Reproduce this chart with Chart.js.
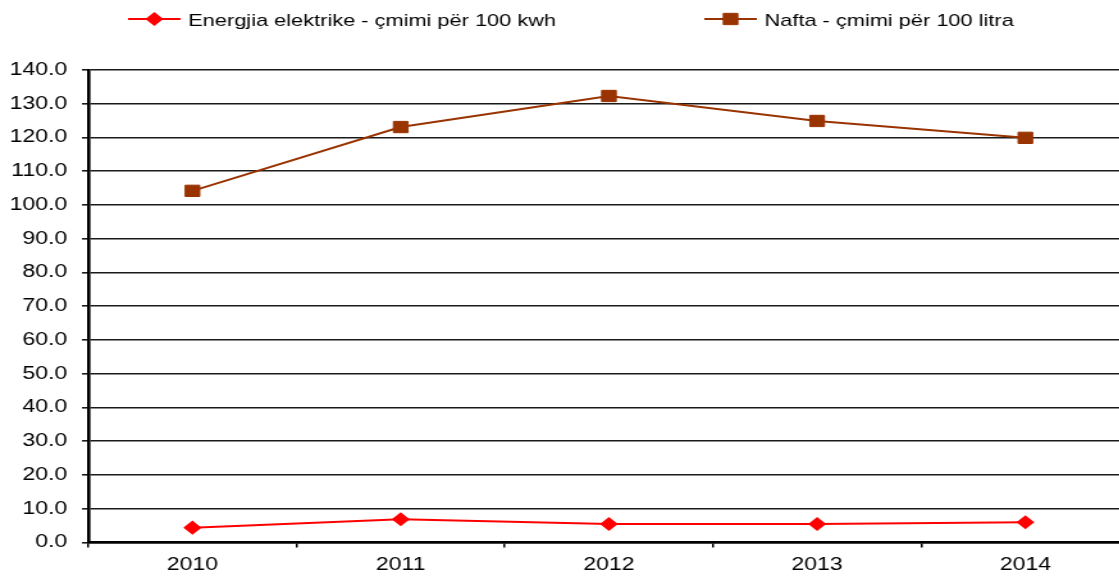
<!DOCTYPE html>
<html>
<head>
<meta charset="utf-8">
<script src="https://cdn.jsdelivr.net/npm/chart.js@4/dist/chart.umd.min.js"></script>
<style>
  html, body { margin: 0; padding: 0; background: #fff; overflow: hidden; width: 1119px; height: 578px; }
</style>
</head>
<body>
<canvas id="c" width="891" height="578" style="display:block;width:1140.5px;height:578px;"></canvas>
<script>
// ---- data ----
const years = ["2010", "2011", "2012", "2013", "2014"];
const energjiaValues = [4.4, 6.9, 5.5, 5.5, 6.0];
const naftaValues = [104.2, 123.1, 132.3, 124.9, 119.9];
const seriesNames = ["Energjia elektrike - çmimi për 100 kwh", "Nafta - çmimi për 100 litra"];
const yTickMin = 0, yTickMax = 140, yTickStep = 10;

const FONT = '"Liberation Sans", Arial, Helvetica, sans-serif';
const RED = '#FF0000';
const BROWN = '#993300';

// legend drawn on canvas, positions for each entry
const legendLayout = [
  { lineX1: 100, lineX2: 141, textX: 147, y: 19 },
  { lineX1: 550, lineX2: 591, textX: 597, y: 19 }
];

const lineLegend = {
  id: 'lineLegend',
  afterDraw(chart) {
    const ctx = chart.ctx;
    chart.data.datasets.forEach((ds, i) => {
      const L = legendLayout[i];
      ctx.save();
      ctx.strokeStyle = ds.borderColor;
      ctx.lineWidth = ds.borderWidth;
      ctx.beginPath();
      ctx.moveTo(L.lineX1, L.y);
      ctx.lineTo(L.lineX2, L.y);
      ctx.stroke();
      ctx.fillStyle = ds.pointBackgroundColor;
      ctx.strokeStyle = ds.pointBorderColor;
      ctx.lineWidth = ds.pointBorderWidth;
      Chart.helpers.drawPoint(ctx, {
        pointStyle: ds.pointStyle,
        radius: ds.pointRadius,
        borderWidth: ds.pointBorderWidth,
        rotation: 0
      }, (L.lineX1 + L.lineX2) / 2, L.y);
      ctx.fillStyle = '#000';
      ctx.font = '17px ' + FONT;
      ctx.textAlign = 'left';
      ctx.textBaseline = 'alphabetic';
      ctx.fillText(ds.label, L.textX, L.y + 6.5);
      ctx.restore();
    });
  }
};

new Chart(document.getElementById('c'), {
  type: 'line',
  data: {
    labels: years,
    datasets: [
      {
        label: seriesNames[0],
        data: energjiaValues,
        borderColor: RED,
        backgroundColor: RED,
        borderWidth: 2,
        pointStyle: 'rectRot',
        pointRadius: 6,
        pointBackgroundColor: RED,
        pointBorderColor: RED,
        pointBorderWidth: 1.5,
        tension: 0
      },
      {
        label: seriesNames[1],
        data: naftaValues,
        borderColor: BROWN,
        backgroundColor: BROWN,
        borderWidth: 2,
        pointStyle: 'rect',
        pointRadius: 8,
        pointBackgroundColor: BROWN,
        pointBorderColor: BROWN,
        pointBorderWidth: 1,
        tension: 0
      }
    ]
  },
  options: {
    responsive: false,
    animation: false,
    devicePixelRatio: 1,
    layout: { padding: { top: 70, left: 0, right: 0, bottom: 0 } },
    plugins: {
      legend: { display: false },
      tooltip: { enabled: false }
    },
    scales: {
      x: {
        type: 'category',
        offset: true,
        grid: {
          offset: true,
          drawOnChartArea: false,
          drawTicks: true,
          tickLength: 5,
          color: '#000',
          lineWidth: 1.5
        },
        border: { display: true, color: '#000', width: 2.6 },
        ticks: {
          color: '#000',
          font: { family: FONT, size: 18 },
          padding: 7,
          maxRotation: 0,
          autoSkip: false
        },
        afterFit(scale) {
          scale.height = 35.5;
        }
      },
      y: {
        min: yTickMin,
        max: yTickMax,
        grid: {
          color: '#1a1a1a',
          lineWidth: 1.6,
          drawTicks: true,
          tickLength: 5
        },
        border: { display: true, color: '#000', width: 2.6 },
        ticks: {
          stepSize: yTickStep,
          color: '#000',
          font: { family: FONT, size: 18 },
          padding: 11.5,
          callback: (v) => Number(v).toFixed(1)
        },
        afterFit(scale) { scale.width = 69; }
      }
    }
  },
  plugins: [lineLegend]
});
</script>
</body>
</html>
